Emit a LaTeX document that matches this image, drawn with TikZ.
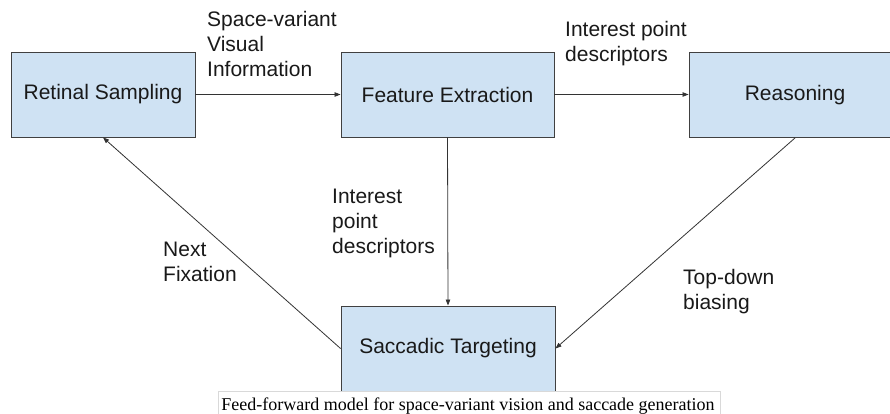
\documentclass[tikz,border=0pt]{standalone}
\usepackage{fontspec}
\setmainfont{Liberation Sans}
\newfontfamily\capfont{Liberation Serif}
\usetikzlibrary{arrows.meta}
\definecolor{boxfill}{HTML}{CFE2F3}
\definecolor{boxline}{HTML}{404040}
\definecolor{arrline}{HTML}{333333}
\begin{document}
\begin{tikzpicture}[x=1pt,y=-1pt,
  procbox/.style={draw=boxline, line width=0.9pt, fill=boxfill, minimum height=85pt, inner sep=0pt,
    font=\fontsize{21}{25}\selectfont, text=black!90},
  conn/.style={draw=arrline, line width=0.8pt, -{Triangle[length=6pt,width=4.5pt]}},
  lbl/.style={font=\fontsize{21}{25}\selectfont, align=left, anchor=base west, inner sep=0pt, text=black!90}
]
\useasboundingbox (0,0) rectangle (890,414);
\fill[white] (0,0) rectangle (890,414);

\node[procbox, minimum width=184pt] (ret) at (103,94.5) {Retinal Sampling};
\node[procbox, minimum width=213pt] (feat) at (447.5,94.5) {Feature Extraction};
\node[procbox, minimum width=212pt] (reas) at (795,95) {Reasoning};
\node[procbox, minimum width=214pt] (sacc) at (448,348.5) {Saccadic Targeting};

\draw[conn] (ret) -- (feat);
\draw[conn] (feat) -- (reas.west |- feat.east);
\draw[conn] (feat.south) -- (sacc.north);
\draw[conn] (reas.south) -- (sacc.east);
\draw[conn] (sacc.west) -- (ret.south);

\node[lbl] (l1) at (207,77) {Space-variant\\Visual\\Information};
\node[lbl] (l2) at (565,62) {Interest point\\descriptors};
\node[lbl] (l3) at (332,253) {Interest\\point\\descriptors};
\node[lbl] (l4) at (163,281) {Next\\Fixation};
\node[lbl] (l5) at (683,309) {Top-down\\biasing};

\draw[black!15, line width=0.6pt] (218,414) -- (218,391.5) -- (720,391.5) -- (720,414);
\node[font=\capfont\fontsize{18}{20}\selectfont, anchor=base, inner sep=0pt] (cap) at (468,410) {Feed-forward model for space-variant vision and saccade generation};
\end{tikzpicture}
\end{document}
